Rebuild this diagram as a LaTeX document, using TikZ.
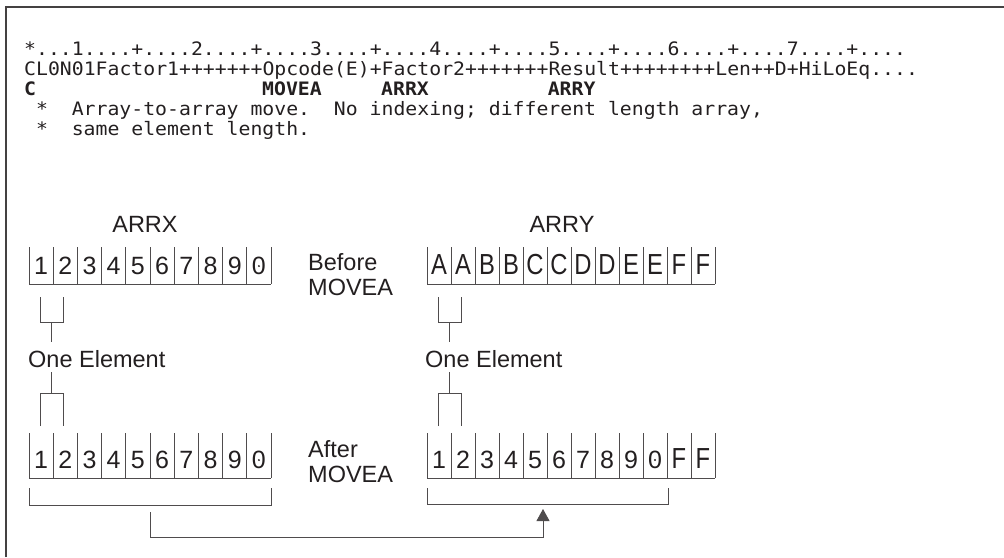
\documentclass[tikz,border=0pt]{standalone}
\usepackage{fontspec}
\setsansfont{Liberation Sans}
\setmonofont{DejaVu Sans Mono}[FakeStretch=1.07]
\newfontfamily\cellfont{Liberation Sans}
\newfontfamily\cellletter{Liberation Sans}[FakeStretch=0.82]
\usetikzlibrary{arrows.meta}
\definecolor{ink}{HTML}{231F20}
\frenchspacing
\begin{document}
\begin{tikzpicture}[x=1pt,y=-1pt,
  frame/.style={line width=1.6pt,draw=ink!85},
  cell/.style={line width=0.8pt,draw=ink!80},
  code/.style={anchor=base west,inner sep=0pt,text=ink,font=\ttfamily\fontsize{18.5}{20}\selectfont},
  codeb/.style={code,font=\ttfamily\bfseries\fontsize{18.5}{20}\selectfont},
  lbl/.style={inner sep=0pt,text=ink,font=\sffamily\fontsize{23.5}{26}\selectfont},
  dig/.style={inner sep=0pt,text=ink,font=\cellfont\fontsize{25}{26}\selectfont},
  let/.style={inner sep=0pt,text=ink,font=\cellletter\fontsize{29}{30}\selectfont}]
\useasboundingbox (0,0) rectangle (1004,557);
% frame
\draw[frame] (6,557) -- (6,7) -- (1004,7);
% code
\node[code] (r1) at (24,55) {*...1....+....2....+....3....+....4....+....5....+....6....+....7....+....};
\node[code] (r2) at (24,75) {CL0N01Factor1+++++++Opcode(E)+Factor2+++++++Result++++++++Len++D+HiLoEq....};
\node[codeb] (r3a) at (24,95) {C};
\node[codeb] (r3b) at ({24+20*11.9},95) {MOVEA};
\node[codeb] (r3c) at ({24+30*11.9},95) {ARRX};
\node[codeb] (r3d) at ({24+44*11.9},95) {ARRY};
\node[code] (r4a) at ({24+1*11.9},115) {*};
\node[code] (r4b) at ({24+4*11.9},115) {Array-to-array move.\ \ No indexing; different length array,};
\node[code] (r5a) at ({24+1*11.9},135) {*};
\node[code] (r5b) at ({24+4*11.9},135) {same element length.};
% labels
\node[lbl,anchor=base] (lx) at (145,232) {ARRX};
\node[lbl,anchor=base] (ly) at (562,232) {ARRY};
\node[lbl,anchor=base west] (bef1) at (308,270) {Before};
\node[lbl,anchor=base west] (bef2) at (308,295) {MOVEA};
\node[lbl,anchor=base west] (aft1) at (308,457) {After};
\node[lbl,anchor=base west] (aft2) at (308,482) {MOVEA};
% ARRX before
\foreach \i in {0,...,10} \draw[cell] ({29+24.2*\i},247) -- ({29+24.2*\i},284);
\draw[cell] (29,284) -- (271,284);
\foreach \d [count=\i from 0] in {1,2,3,4,5,6,7,8,9,0}
  \node[dig] (xb\i) at ({29+24.2*\i+12.1},266) {\d};
\fill[ink] (xb9.center) circle (1.1);
% ARRY before
\foreach \i in {0,...,12} \draw[cell] ({427+24*\i},247) -- ({427+24*\i},284);
\draw[cell] (427,284) -- (715,284);
\foreach \d [count=\i from 0] in {A,A,B,B,C,C,D,D,E,E,F,F}
  \node[let] (yb\i) at ({427+24*\i+12},265) {\d};
% ARRX after
\foreach \i in {0,...,10} \draw[cell] ({29+24.2*\i},433) -- ({29+24.2*\i},478);
\draw[cell] (29,478) -- (271,478);
\foreach \d [count=\i from 0] in {1,2,3,4,5,6,7,8,9,0}
  \node[dig] (xa\i) at ({29+24.2*\i+12.1},460) {\d};
\fill[ink] (xa9.center) circle (1.1);
% ARRY after
\foreach \i in {0,...,12} \draw[cell] ({427+24*\i},433) -- ({427+24*\i},478);
\draw[cell] (427,478) -- (715,478);
\foreach \d [count=\i from 0] in {1,2,3,4,5,6,7,8,9,0}
  \node[dig] (ya\i) at ({427+24*\i+12},460) {\d};
\fill[ink] (ya9.center) circle (1.1);
\node[let] (ya10) at ({427+24*10+12},459) {F};
\node[let] (ya11) at ({427+24*11+12},459) {F};
% One Element labels
\node[lbl,anchor=base west] (oex) at (28,367) {One Element};
\node[lbl,anchor=base west] (oey) at (425,367) {One Element};
% brackets ARRX
\coordinate (sx1) at (51.5,322);
\coordinate (sx2) at (51.5,342);
\coordinate (sx3) at (51.5,372);
\coordinate (sx4) at (51.5,393);
\draw[cell] (40,297) -- (40,322) -- (63,322) -- (63,297);
\draw[cell] (sx1) -- (sx2);
\draw[cell] (sx3) -- (sx4);
\draw[cell] (40,426) -- (40,393) -- (63,393) -- (63,426);
% brackets ARRY
\coordinate (sy1) at (449.5,322);
\coordinate (sy2) at (449.5,342);
\coordinate (sy3) at (449.5,372);
\coordinate (sy4) at (449.5,393);
\draw[cell] (438,297) -- (438,322) -- (461,322) -- (461,297);
\draw[cell] (sy1) -- (sy2);
\draw[cell] (sy3) -- (sy4);
\draw[cell] (438,426) -- (438,393) -- (461,393) -- (461,426);
% bottom brackets and arrow
\draw[cell] (29,488) -- (29,505) -- (271,505) -- (271,488);
\draw[cell] (427,488) -- (427,504) -- (668,504) -- (668,488);
\coordinate (a0) at (150,512);
\coordinate (a1) at (543,509);
\draw[cell,-{Triangle[width=13pt,length=12pt]}] (a0) -- (150,537) -| (a1);
\end{tikzpicture}
\end{document}
